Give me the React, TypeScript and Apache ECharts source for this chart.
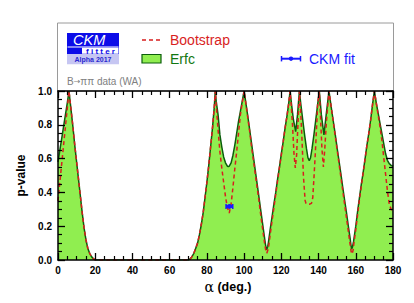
import React, { useEffect, useRef } from "react";
import * as echarts from "echarts";

// Erfc p-value curve: [alpha (deg), p-value]
const erfcCurve: [number, number][] = [
  [0, 0.58], [1, 0.65], [2, 0.72], [3, 0.79], [4, 0.86], [5, 0.93], [5.9, 1.0],
  [7, 0.89], [8, 0.79], [9, 0.68], [10, 0.58], [11, 0.48], [12, 0.38], [13, 0.28],
  [14, 0.19], [15, 0.12], [16, 0.07], [17, 0.04], [18, 0.02], [19, 0.008], [20, 0.0],
  [70, 0.0], [71, 0.006], [72, 0.02], [73, 0.04], [74, 0.07], [75, 0.1], [76, 0.15],
  [77, 0.21], [78, 0.28], [79, 0.37], [80, 0.46], [81, 0.56], [82, 0.67], [83, 0.78],
  [84, 0.91], [84.5, 1.0], [85, 0.94], [86, 0.86], [87, 0.74], [88, 0.67], [89, 0.61],
  [90, 0.575], [91, 0.555], [91.5, 0.553], [92, 0.555], [93, 0.575], [94, 0.62],
  [95, 0.68], [96, 0.75], [97, 0.82], [98, 0.88], [99, 0.94], [100, 1.0],
  [101, 0.925], [102, 0.85], [103, 0.77], [104, 0.69], [105, 0.61], [106, 0.53],
  [107, 0.45], [108, 0.37], [109, 0.29], [110, 0.21], [111, 0.13], [111.5, 0.09],
  [112.1, 0.06], [112.7, 0.08], [113, 0.1], [114, 0.18], [115, 0.255], [116, 0.33],
  [117, 0.4], [118, 0.48], [119, 0.55], [120, 0.63], [121, 0.7], [122, 0.78],
  [123, 0.85], [124, 0.93], [124.7, 1.0], [125.5, 0.92], [126.5, 0.83], [127.7, 0.76],
  [128.7, 0.86], [129.7, 1.0], [130.5, 0.92], [131.5, 0.83], [132.5, 0.74],
  [133.5, 0.66], [134.3, 0.605], [135, 0.588], [135.7, 0.605], [136.5, 0.66],
  [137.5, 0.74], [138.5, 0.83], [139.5, 0.92], [140.4, 1.0], [141.5, 0.86],
  [142.9, 0.74], [144.2, 0.87], [145.6, 1.0], [147, 0.89], [148, 0.815], [149, 0.74],
  [150, 0.66], [151, 0.585], [152, 0.51], [153, 0.43], [154, 0.355], [155, 0.28],
  [156, 0.2], [157, 0.125], [157.4, 0.09], [157.8, 0.065], [158.3, 0.08],
  [158.8, 0.11], [160, 0.2], [161, 0.29], [162, 0.37], [163, 0.45], [164, 0.52],
  [165, 0.6], [166, 0.68], [167, 0.75], [168, 0.83], [169, 0.92], [170, 1.0],
  [171, 0.93], [172, 0.87], [173, 0.81], [174, 0.75], [175, 0.69], [176, 0.63],
  [177, 0.59], [178, 0.57], [179, 0.56], [180, 0.555],
];

// Bootstrap p-value curve: [alpha (deg), p-value]
const bootstrapCurve: [number, number][] = [
  [0, 0.35], [1, 0.46], [2, 0.57], [3, 0.68], [4, 0.79], [5, 0.9], [5.9, 1.0],
  [7, 0.89], [8, 0.79], [9, 0.68], [10, 0.58], [11, 0.48], [12, 0.38], [13, 0.28],
  [14, 0.19], [15, 0.12], [16, 0.07], [17, 0.04], [18, 0.02], [19, 0.008], [20, 0.0],
  [70, 0.0], [71, 0.006], [72, 0.02], [73, 0.04], [74, 0.07], [75, 0.1], [76, 0.15],
  [77, 0.21], [78, 0.28], [79, 0.37], [80, 0.46], [81, 0.56], [82, 0.67], [83, 0.78],
  [84, 0.91], [84.5, 1.0], [85, 0.92], [86, 0.77], [87, 0.64], [88, 0.545], [89, 0.46],
  [90, 0.375], [91, 0.31], [92, 0.278], [93, 0.33], [94, 0.43], [95, 0.54], [96, 0.64],
  [97, 0.75], [98, 0.86], [99, 0.93], [100, 1.0],
  [101, 0.92], [102, 0.84], [103, 0.76], [104, 0.67], [105, 0.59], [106, 0.51],
  [107, 0.43], [108, 0.35], [109, 0.26], [110, 0.18], [111, 0.1], [111.6, 0.06],
  [112.2, 0.04], [112.8, 0.06], [113.3, 0.09], [114, 0.15], [115, 0.23], [116, 0.31],
  [117, 0.39], [118, 0.47], [119, 0.55], [120, 0.62], [121, 0.7], [122, 0.78],
  [123, 0.85], [124, 0.93], [124.7, 1.0], [125.3, 0.92], [126, 0.8], [126.8, 0.63],
  [127.5, 0.545], [128.2, 0.62], [129, 0.82], [129.7, 1.0], [130.3, 0.9], [131, 0.74],
  [131.9, 0.49], [132.8, 0.35], [133.3, 0.335], [134, 0.33], [135, 0.33],
  [136.2, 0.335], [136.9, 0.37], [137.6, 0.5], [138.3, 0.64], [139, 0.8], [139.5, 0.92],
  [140.4, 1.0], [141, 0.86], [141.8, 0.66], [142.6, 0.55], [143.3, 0.65], [144.3, 0.83],
  [145.6, 1.0], [147, 0.89], [148, 0.81], [149, 0.73], [150, 0.65], [151, 0.57],
  [152, 0.49], [153, 0.41], [154, 0.33], [155, 0.25], [156, 0.17], [157, 0.09],
  [157.5, 0.05], [158, 0.035], [158.6, 0.06], [159, 0.1], [160, 0.18], [161, 0.27],
  [162, 0.36], [163, 0.44], [164, 0.52], [165, 0.6], [166, 0.68], [167, 0.75],
  [168, 0.83], [169, 0.92], [170, 1.0], [171, 0.93], [172, 0.86], [173, 0.79],
  [174, 0.71], [175, 0.61], [176, 0.51], [177, 0.41], [178, 0.33], [179, 0.3],
  [180, 0.29],
];

// CKM fit point with horizontal error
const ckmFitAlpha = [92.1];
const ckmFitLow = [90.3];
const ckmFitHigh = [93.9];
const ckmFitP = [0.317];

const xTicks = { min: 0, max: 180, interval: 20 };
const yTicks = { min: 0, max: 1, interval: 0.2 };

const RED = "#d81e1e";
const GREEN_FILL = "#90ee50";
const GREEN_LINE = "#0b5e0b";
const BLUE = "#1a1aff";
const LOGO_BLUE = "#0c0ce8";
const FONT = "Liberation Sans, Arial, Helvetica, sans-serif";

function axisBase(extra: any) {
  return {
    type: "value",
    splitLine: { show: false },
    axisLine: { show: true, onZero: false, lineStyle: { color: "#000", width: 1.5 } },
    axisTick: { show: true, inside: true, length: 7, lineStyle: { color: "#000", width: 1.3 } },
    minorTick: { show: true, splitNumber: 4, length: 4, lineStyle: { color: "#000", width: 1.2 } },
    z: 5,
    ...extra,
  };
}

export default function App() {
  const ref = useRef<HTMLDivElement>(null);

  useEffect(() => {
    if (!ref.current) return;
    const chart = echarts.init(ref.current, null, { renderer: "svg" });

    const labelStyle = {
      fontSize: 10,
      fontWeight: "bold",
      color: "#000",
      fontFamily: FONT,
    };

    const option: any = {
      animation: false,
      backgroundColor: "#fff",
      grid: { left: 58, right: 21, top: 91, bottom: 43, containLabel: false },
      xAxis: [
        axisBase({
          ...xTicks,
          position: "bottom",
          axisLabel: { ...labelStyle, margin: 5 },
        }),
        axisBase({
          ...xTicks,
          position: "top",
          axisLabel: { show: false },
        }),
      ],
      yAxis: [
        axisBase({
          ...yTicks,
          position: "left",
          axisLabel: { ...labelStyle, margin: 6, formatter: (v: number) => v.toFixed(1) },
        }),
        axisBase({
          ...yTicks,
          position: "right",
          axisLabel: { show: false },
        }),
      ],
      graphic: [
        {
          type: "rect",
          z: -1,
          shape: { x: 57.5, y: 23, width: 336, height: 68 },
          style: { fill: "#fff", stroke: "#9a9a9a", lineWidth: 1 },
        },
        // CKMfitter logo
        { type: "rect", shape: { x: 67, y: 33, width: 52, height: 21.3 }, style: { fill: LOGO_BLUE } },
        {
          type: "text",
          x: 73,
          y: 39.8,
          style: {
            text: "CKM",
            fontSize: 14.5,
            lineHeight: 12,
            fontStyle: "italic",
            fill: "#fff",
            fontFamily: FONT,
            verticalAlign: "middle",
          },
        },
        { type: "rect", shape: { x: 67.5, y: 46.4, width: 51, height: 1 }, style: { fill: "#fff" } },
        { type: "rect", shape: { x: 82, y: 47.8, width: 36.5, height: 6 }, style: { fill: "#fff" } },
        {
          type: "text",
          x: 100.5,
          y: 51.6,
          style: {
            text: "f i t t e r",
            fontSize: 8,
            lineHeight: 6,
            fontWeight: "bold",
            fill: LOGO_BLUE,
            fontFamily: FONT,
            align: "center",
            verticalAlign: "middle",
          },
        },
        { type: "rect", shape: { x: 67, y: 54.3, width: 52, height: 10 }, style: { fill: "#c6c6f2" } },
        {
          type: "text",
          x: 93,
          y: 59.8,
          style: {
            text: "Alpha 2017",
            fontSize: 7,
            lineHeight: 8,
            fontWeight: "bold",
            fill: "#2a2ad0",
            fontFamily: FONT,
            align: "center",
            verticalAlign: "middle",
          },
        },
        // Legend: Bootstrap
        {
          type: "line",
          shape: { x1: 142, y1: 40, x2: 161.5, y2: 40 },
          style: { stroke: RED, lineWidth: 1.5, lineDash: [4, 3] },
        },
        {
          type: "text",
          x: 170,
          y: 40,
          style: {
            text: "Bootstrap",
            fontSize: 14,
            fill: RED,
            fontFamily: FONT,
            verticalAlign: "middle",
          },
        },
        // Legend: Erfc
        {
          type: "rect",
          shape: { x: 142, y: 54.5, width: 19, height: 8.5 },
          style: { fill: GREEN_FILL, stroke: GREEN_LINE, lineWidth: 1.2 },
        },
        {
          type: "text",
          x: 170,
          y: 59,
          style: {
            text: "Erfc",
            fontSize: 14,
            fill: "#117711",
            fontFamily: FONT,
            verticalAlign: "middle",
          },
        },
        // Legend: CKM fit
        {
          type: "line",
          shape: { x1: 281, y1: 58.7, x2: 301, y2: 58.7 },
          style: { stroke: BLUE, lineWidth: 2 },
        },
        { type: "line", shape: { x1: 281.5, y1: 56, x2: 281.5, y2: 61.4 }, style: { stroke: BLUE, lineWidth: 1.5 } },
        { type: "line", shape: { x1: 300.5, y1: 56, x2: 300.5, y2: 61.4 }, style: { stroke: BLUE, lineWidth: 1.5 } },
        { type: "circle", shape: { cx: 291, cy: 58.7, r: 2.2 }, style: { fill: BLUE } },
        {
          type: "text",
          x: 309,
          y: 59,
          style: {
            text: "CKM fit",
            fontSize: 14,
            fill: BLUE,
            fontFamily: FONT,
            verticalAlign: "middle",
          },
        },
        // Data label
        {
          type: "text",
          x: 67,
          y: 81,
          style: {
            text: "{a|B}{r|\u2192}{a|\u03c0\u03c0 data (WA)}",
            rich: {
              a: { fontSize: 10, fill: "#808080", fontFamily: FONT },
              r: { fontSize: 8, fill: "#808080", fontFamily: "DejaVu Sans" },
            },
            verticalAlign: "middle",
          },
        },
        // Axis titles
        {
          type: "text",
          x: 228,
          y: 286.5,
          style: {
            text: "{a|\u03b1} {b|(deg.)}",
            rich: {
              a: { fontSize: 14, fontFamily: "DejaVu Serif, serif", fill: "#000" },
              b: { fontSize: 12.5, fontWeight: "bold", fontFamily: FONT, fill: "#000" },
            },
            align: "center",
            verticalAlign: "middle",
          },
        },
        {
          type: "text",
          x: 21,
          y: 175.5,
          rotation: Math.PI / 2,
          style: {
            text: "p-value",
            fontSize: 12,
            fontWeight: "bold",
            fill: "#000",
            fontFamily: FONT,
            align: "center",
            verticalAlign: "middle",
          },
        },
      ],
      series: [
        {
          name: "Erfc",
          type: "line",
          xAxisIndex: 0,
          yAxisIndex: 0,
          data: erfcCurve,
          showSymbol: false,
          smooth: false,
          lineStyle: { color: GREEN_LINE, width: 1.5 },
          areaStyle: { color: GREEN_FILL, opacity: 1 },
          z: 2,
        },
        {
          name: "Bootstrap",
          type: "line",
          xAxisIndex: 0,
          yAxisIndex: 0,
          data: bootstrapCurve,
          showSymbol: false,
          smooth: false,
          lineStyle: { color: RED, width: 1.5, type: [4, 3] },
          z: 3,
        },
        {
          name: "CKM fit",
          type: "custom",
          xAxisIndex: 0,
          yAxisIndex: 0,
          data: ckmFitAlpha.map((a, i) => [a, ckmFitP[i], ckmFitLow[i], ckmFitHigh[i]]),
          renderItem: (params: any, api: any) => {
            const c = api.coord([api.value(0), api.value(1)]);
            const lo = api.coord([api.value(2), api.value(1)]);
            const hi = api.coord([api.value(3), api.value(1)]);
            return {
              type: "group",
              children: [
                {
                  type: "line",
                  shape: { x1: lo[0], y1: c[1], x2: hi[0], y2: c[1] },
                  style: { stroke: BLUE, lineWidth: 3 },
                },
                {
                  type: "line",
                  shape: { x1: lo[0], y1: c[1] - 2.5, x2: lo[0], y2: c[1] + 2.5 },
                  style: { stroke: BLUE, lineWidth: 1.5 },
                },
                {
                  type: "line",
                  shape: { x1: hi[0], y1: c[1] - 2.5, x2: hi[0], y2: c[1] + 2.5 },
                  style: { stroke: BLUE, lineWidth: 1.5 },
                },
                {
                  type: "circle",
                  shape: { cx: c[0], cy: c[1], r: 2.5 },
                  style: { fill: BLUE },
                },
              ],
            };
          },
          z: 4,
        },
      ],
    };

    chart.setOption(option);
    return () => {
      chart.dispose();
    };
  }, []);

  return (
    <div
      ref={ref}
      style={{ position: "fixed", left: 0, top: 0, width: 414, height: 303, background: "#fff" }}
    />
  );
}
